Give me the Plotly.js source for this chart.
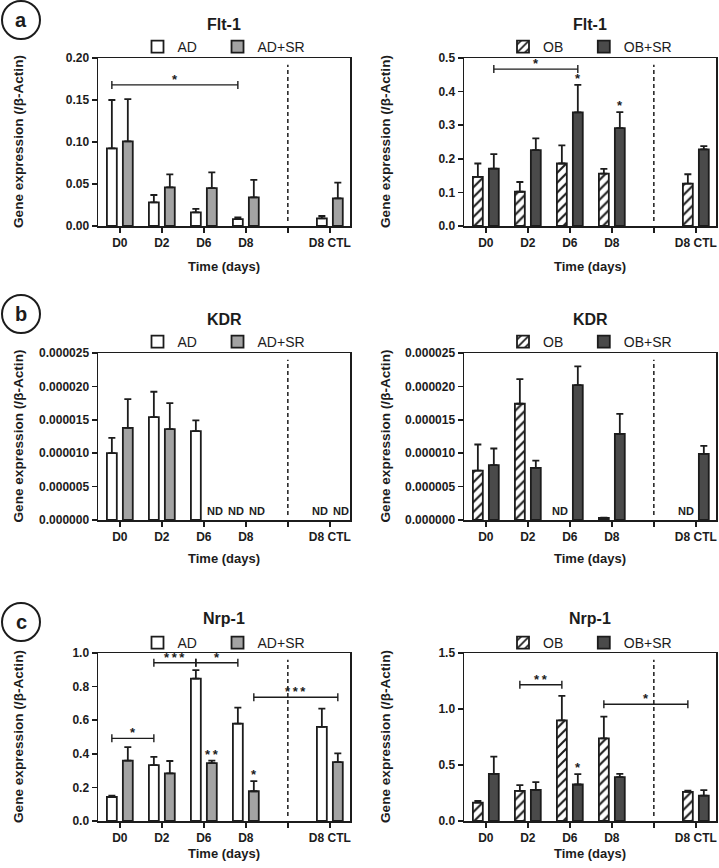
<!DOCTYPE html>
<html><head><meta charset="utf-8">
<script src="https://cdn.plot.ly/plotly-3.0.1.min.js"></script>
<style>html,body{margin:0;padding:0;background:#fff}</style>
</head><body><div id="chart" style="width:719px;height:868px"></div>
<script>
// ---------- DATA ----------
const categories = ["D0", "D2", "D6", "D8", "D8 CTL"];
const axisCategories = ["D0", "D2", "D6", "D8", " ", "D8 CTL"];

// Flt-1
const fltAD = [0.0925, 0.0282, 0.0163, 0.0083, 0.0091];
const fltAD_err = [0.0575, 0.0087, 0.0040, 0.0020, 0.0028];
const fltADSR = [0.1008, 0.0460, 0.0452, 0.0341, 0.0330];
const fltADSR_err = [0.0502, 0.0155, 0.0187, 0.0207, 0.0186];
const fltOB = [0.146, 0.102, 0.186, 0.156, 0.126];
const fltOB_err = [0.040, 0.029, 0.054, 0.014, 0.028];
const fltOBSR = [0.171, 0.226, 0.338, 0.291, 0.228];
const fltOBSR_err = [0.043, 0.035, 0.082, 0.048, 0.010];

// KDR (null = ND, not detected)
const kdrAD = [10.0e-6, 15.4e-6, 13.3e-6, null, null];
const kdrAD_err = [2.3e-6, 3.8e-6, 1.6e-6, null, null];
const kdrADSR = [13.8e-6, 13.6e-6, null, null, null];
const kdrADSR_err = [4.3e-6, 3.9e-6, null, null, null];
const kdrOB = [7.4e-6, 17.4e-6, null, 0.3e-6, null];
const kdrOB_err = [3.9e-6, 3.7e-6, null, 0.05e-6, null];
const kdrOBSR = [8.2e-6, 7.8e-6, 20.2e-6, 12.9e-6, 9.9e-6];
const kdrOBSR_err = [2.5e-6, 1.1e-6, 2.8e-6, 3.0e-6, 1.2e-6];

// Nrp-1
const nrpAD = [0.143, 0.333, 0.847, 0.580, 0.560];
const nrpAD_err = [0.008, 0.049, 0.051, 0.095, 0.109];
const nrpADSR = [0.359, 0.283, 0.345, 0.177, 0.351];
const nrpADSR_err = [0.081, 0.074, 0.014, 0.060, 0.051];
const nrpOB = [0.164, 0.269, 0.899, 0.738, 0.260];
const nrpOB_err = [0.015, 0.051, 0.218, 0.194, 0.012];
const nrpOBSR = [0.421, 0.278, 0.326, 0.391, 0.227];
const nrpOBSR_err = [0.153, 0.069, 0.092, 0.030, 0.048];

// significance marks (series 0 = first bar, 1 = second bar)
const sigFltAD = { brackets: [["D0", 0, "D8", 0, 0.168, "*"]], bars: [] };
const sigFltOB = { brackets: [["D0", 1, "D6", 1, 0.467, "*"]], bars: [["D6", 1, "*"], ["D8", 1, "*"]] };
const sigKdrAD = { brackets: [], bars: [] };
const sigKdrOB = { brackets: [], bars: [] };
const sigNrpAD = { brackets: [["D0", 0, "D2", 0, 0.492, "*"], ["D2", 0, "D6", 0, 0.942, "***"], ["D6", 0, "D8", 0, 0.942, "*"], ["D8", 1, "D8 CTL", 1, 0.737, "***"]],
                   bars: [["D6", 1, "**"], ["D8", 1, "*"]] };
const sigNrpOB = { brackets: [["D2", 0, "D6", 0, 1.216, "**"], ["D8", 0, "D8 CTL", 0, 1.043, "*"]], bars: [["D6", 1, "*"]] };

// ---------- STYLE / LAYOUT ----------
const FONT = "Liberation Sans, Arial, Helvetica, sans-serif";
const INK = "#1c1c1c";
const W = 719, H = 868;
const px = x => x / W, py = y => 1 - y / H;
const styles = {
  white: { color: "#ffffff" },
  light: { color: "#a3a3a3" },
  hatch: { color: "#ffffff", pattern: { shape: "/", bgcolor: "#ffffff", fgcolor: INK, size: 7, solidity: 0.3 } },
  dark:  { color: "#4a4a4a" }
};
const colX = [[98, 350], [464, 716]];
const rowY = [[58, 226], [353, 520], [653, 821]];
const titleY = [25, 319, 618];
const legendY = [47, 342, 643];
const xTitleY = [267, 558, 853];
const yTitleX = [18, 385];
const circleLabels = [["a", 20], ["b", 314], ["c", 622]];
const LEGEND_PAD = "\u00a0\u00a0\u00a0\u00a0";

const panels = [
  { title: "Flt-1", row: 0, col: 0, range: [0, 0.2], dtick: 0.05, fmt: ".2f", sig: sigFltAD,
    series: [["AD", fltAD, fltAD_err, "white"], ["AD+SR", fltADSR, fltADSR_err, "light"]] },
  { title: "Flt-1", row: 0, col: 1, range: [0, 0.5], dtick: 0.1, fmt: ".1f", sig: sigFltOB,
    series: [["OB", fltOB, fltOB_err, "hatch"], ["OB+SR", fltOBSR, fltOBSR_err, "dark"]] },
  { title: "KDR", row: 1, col: 0, range: [0, 0.000025], dtick: 0.000005, fmt: ".6f", sig: sigKdrAD,
    series: [["AD", kdrAD, kdrAD_err, "white"], ["AD+SR", kdrADSR, kdrADSR_err, "light"]] },
  { title: "KDR", row: 1, col: 1, range: [0, 0.000025], dtick: 0.000005, fmt: ".6f", sig: sigKdrOB,
    series: [["OB", kdrOB, kdrOB_err, "hatch"], ["OB+SR", kdrOBSR, kdrOBSR_err, "dark"]] },
  { title: "Nrp-1", row: 2, col: 0, range: [0, 1.0], dtick: 0.2, fmt: ".1f", sig: sigNrpAD,
    series: [["AD", nrpAD, nrpAD_err, "white"], ["AD+SR", nrpADSR, nrpADSR_err, "light"]] },
  { title: "Nrp-1", row: 2, col: 1, range: [0, 1.5], dtick: 0.5, fmt: ".1f", sig: sigNrpOB,
    series: [["OB", nrpOB, nrpOB_err, "hatch"], ["OB+SR", nrpOBSR, nrpOBSR_err, "dark"]] }
];

const BARGAP = 0.24;
const OFFSET = (1 - BARGAP) / 4;
const barX = (cat, s) => axisCategories.indexOf(cat) + (s === 0 ? -OFFSET : OFFSET);
const starText = lab => lab.split("").join("\u2009");

const traces = [];
const layout = {
  width: W, height: H, margin: { l: 0, r: 0, t: 0, b: 0 },
  paper_bgcolor: "#ffffff", plot_bgcolor: "#ffffff",
  barmode: "group", bargap: BARGAP, bargroupgap: 0.38,
  font: { family: FONT, color: INK },
  shapes: [], annotations: []
};
const boldFont = (size) => ({ family: FONT, size: size, color: INK, weight: "bold" });

panels.forEach((p, i) => {
  const n = i + 1;
  const xa = "x" + (n === 1 ? "" : n), ya = "y" + (n === 1 ? "" : n);
  const xKey = "xaxis" + (n === 1 ? "" : n), yKey = "yaxis" + (n === 1 ? "" : n);
  const legKey = "legend" + (n === 1 ? "" : n);
  const [x0, x1] = colX[p.col], [y0, y1] = rowY[p.row];

  p.series.forEach(([name, vals, errs, st], s) => {
    const sty = styles[st];
    const marker = { color: sty.color, line: { color: INK, width: 1.8 } };
    if (sty.pattern) marker.pattern = sty.pattern;
    traces.push({
      type: "bar", name: s === 0 ? name + LEGEND_PAD : name, x: categories, y: vals,
      xaxis: xa, yaxis: ya, legend: legKey,
      marker: marker,
      error_y: { type: "data", array: errs, arrayminus: errs.map(() => 0), symmetric: false,
                 color: INK, thickness: 1.8, width: 3.5 },
      hoverinfo: "skip"
    });
  });

  layout[xKey] = {
    domain: [px(x0), px(x1)], anchor: ya, type: "category",
    categoryorder: "array", categoryarray: axisCategories, range: [-0.52, 5.48],
    showline: true, linecolor: INK, linewidth: 1.5, mirror: true,
    ticks: "outside", ticklen: 5, tickwidth: 1.5, tickcolor: INK,
    tickfont: boldFont(12), showgrid: false, zeroline: false, fixedrange: true
  };
  layout[yKey] = {
    domain: [py(y1), py(y0)], anchor: xa, range: p.range, dtick: p.dtick, tick0: 0,
    tickformat: p.fmt,
    showline: true, linecolor: INK, linewidth: 1.5, mirror: true,
    ticks: "outside", ticklen: 5, tickwidth: 1.5, tickcolor: INK,
    tickfont: boldFont(12), showgrid: false, zeroline: false, fixedrange: true
  };
  layout[legKey] = {
    orientation: "h", x: px((x0 + x1) / 2), y: py(legendY[p.row]),
    xanchor: "center", yanchor: "middle", xref: "paper", yref: "paper",
    bgcolor: "rgba(0,0,0,0)", font: { family: FONT, size: 14, color: INK },
    traceorder: "normal"
  };

  // titles
  layout.annotations.push({ text: p.title, xref: "paper", yref: "paper", x: px((x0 + x1) / 2), y: py(titleY[p.row]),
    xanchor: "center", yanchor: "middle", showarrow: false, font: boldFont(16) });
  layout.annotations.push({ text: "Time (days)", xref: "paper", yref: "paper", x: px((x0 + x1) / 2), y: py(xTitleY[p.row]),
    xanchor: "center", yanchor: "middle", showarrow: false, font: boldFont(13) });
  layout.annotations.push({ text: "Gene expression (/β-Actin)", xref: "paper", yref: "paper", x: px(yTitleX[p.col]), y: py((y0 + y1) / 2),
    xanchor: "center", yanchor: "middle", textangle: -90, showarrow: false, font: boldFont(13.6) });

  // dashed divider
  layout.shapes.push({ type: "line", xref: xa, yref: ya + " domain", x0: axisCategories.indexOf(" "), x1: axisCategories.indexOf(" "),
    y0: 0.03, y1: 0.96, line: { color: INK, width: 1.5, dash: "4px,3px" } });

  // ND labels
  p.series.forEach(([name, vals], s) => {
    vals.forEach((v, k) => {
      if (v === null) {
        layout.annotations.push({ text: "ND", xref: xa, yref: ya, x: barX(categories[k], s), y: 0,
          xanchor: "center", yanchor: "bottom", yshift: 1, xshift: s === 0 ? -2 : 3,
          showarrow: false, font: boldFont(11) });
      }
    });
  });

  // significance brackets
  p.sig.brackets.forEach(([c0, s0, c1, s1, yv, lab]) => {
    const bx0 = barX(c0, s0), bx1 = barX(c1, s1);
    layout.shapes.push({ type: "line", xref: xa, yref: ya, x0: bx0, x1: bx1, y0: yv, y1: yv, line: { color: INK, width: 1.4 } });
    [bx0, bx1].forEach(bx => layout.shapes.push({ type: "line", xref: xa, yref: ya, x0: bx, x1: bx,
      ysizemode: "pixel", yanchor: yv, y0: -4, y1: 4, line: { color: INK, width: 1.4 } }));
    layout.annotations.push({ text: starText(lab), xref: xa, yref: ya, x: (bx0 + bx1) / 2, y: yv, xanchor: "center", yanchor: "bottom",
      yshift: -4, showarrow: false, font: boldFont(13) });
  });
  p.sig.bars.forEach(([c, s, lab]) => {
    const k = categories.indexOf(c);
    const top = p.series[s][1][k] + p.series[s][2][k];
    layout.annotations.push({ text: starText(lab), xref: xa, yref: ya, x: barX(c, s), y: top, xanchor: "center", yanchor: "bottom",
      yshift: -3, showarrow: false, font: boldFont(13) });
  });
});

// panel letters
circleLabels.forEach(([t, cy]) => {
  layout.shapes.push({ type: "circle", xref: "paper", yref: "paper", x0: px(2), x1: px(40), y0: py(cy + 19), y1: py(cy - 19),
    line: { color: INK, width: 2 } });
  layout.annotations.push({ text: t, xref: "paper", yref: "paper", x: px(21), y: py(cy), xanchor: "center", yanchor: "middle",
    showarrow: false, font: boldFont(20) });
});

Plotly.newPlot("chart", traces, layout, { staticPlot: true, displayModeBar: false });
</script></body></html>
